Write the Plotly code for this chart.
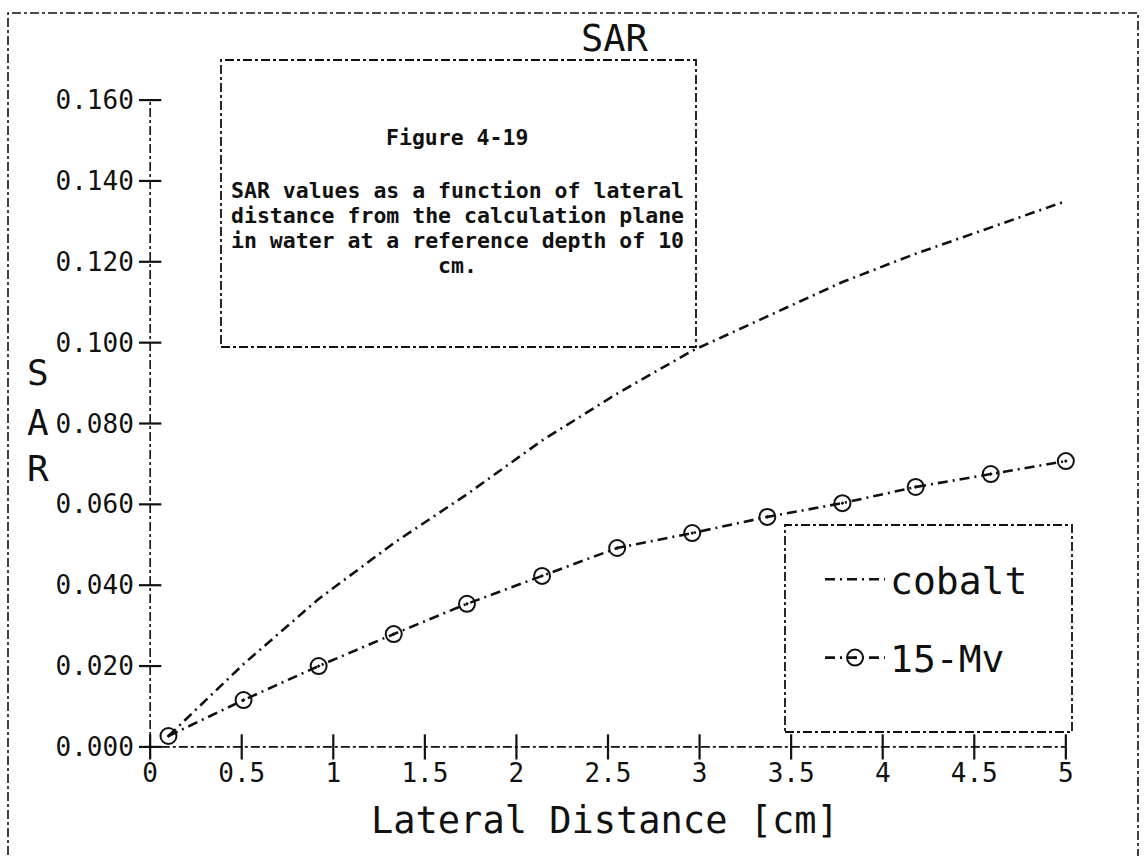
import plotly.graph_objects as go

# ---- data -------------------------------------------------------------
distance_cm = [0.1, 0.51, 0.92, 1.33, 1.73, 2.14, 2.55, 2.96, 3.37, 3.78, 4.18, 4.59, 5.0]
sar_cobalt = [0.0027, 0.0205, 0.0366, 0.0504, 0.0625, 0.0758, 0.0874, 0.0980,
              0.1065, 0.1150, 0.1220, 0.1285, 0.1350]
sar_15mv = [0.0027, 0.0116, 0.0200, 0.0279, 0.0354, 0.0423, 0.0492, 0.0529,
            0.0569, 0.0603, 0.0643, 0.0675, 0.0707]

x_ticks = [0, 0.5, 1, 1.5, 2, 2.5, 3, 3.5, 4, 4.5, 5]
x_tick_text = ["0", "0.5", "1", "1.5", "2", "2.5", "3", "3.5", "4", "4.5", "5"]
y_ticks = [0.0, 0.02, 0.04, 0.06, 0.08, 0.10, 0.12, 0.14, 0.16]
y_tick_text = ["0.000", "0.020", "0.040", "0.060", "0.080", "0.100", "0.120", "0.140", "0.160"]

caption_lines = [
    "SAR values as a function of lateral",
    "distance from the calculation plane",
    "in water at a reference depth of 10",
    "cm.",
]

# ---- layout geometry --------------------------------------------------
W, H = 1144, 856
ML, MR, MT, MB = 141, 69, 92, 101
PW, PH = W - ML - MR, H - MT - MB


def px(x):
    return (x - ML) / PW


def py(y):
    return (H - MB - y) / PH


MONO = "DejaVu Sans Mono"
INK = "#111111"
DASH = "10px,5px,2px,5px"

fig = go.Figure()

fig.add_trace(go.Scatter(
    x=distance_cm, y=sar_cobalt, mode="lines", name="cobalt",
    legendgroup="a",
    line=dict(color=INK, width=2.6, dash=DASH),
))
fig.add_trace(go.Scatter(
    x=distance_cm, y=sar_15mv, mode="lines+markers", name="15-Mv",
    legendgroup="b",
    line=dict(color=INK, width=2.6, dash=DASH),
    marker=dict(symbol="circle-open-dot", size=16, color=INK, line=dict(width=2)),
    cliponaxis=False,
))

# cross-shaped tick marks on both axes
fig.add_trace(go.Scatter(
    x=x_ticks, y=[0] * len(x_ticks), mode="markers", showlegend=False,
    marker=dict(symbol="line-ns", size=18, line=dict(width=2.2, color=INK)),
    cliponaxis=False, hoverinfo="skip",
))
fig.add_trace(go.Scatter(
    x=[0] * len(y_ticks), y=y_ticks, mode="markers", showlegend=False,
    marker=dict(symbol="line-ew", size=16, line=dict(width=2.2, color=INK)),
    cliponaxis=False, hoverinfo="skip",
))

shapes = []
# dashed axis lines
shapes.append(dict(type="line", xref="x", yref="y", x0=-0.04, x1=5.0, y0=0, y1=0,
                   line=dict(color=INK, width=1.6, dash="dashdot")))
shapes.append(dict(type="line", xref="x", yref="y", x0=0, x1=0, y0=0, y1=0.16,
                   line=dict(color=INK, width=1.6, dash="dashdot")))
# outer frame
shapes.append(dict(type="rect", xref="paper", yref="paper",
                   x0=px(8), x1=px(1138), y0=py(880), y1=py(13),
                   line=dict(color=INK, width=1.6, dash="dashdot")))
# caption box
shapes.append(dict(type="rect", xref="paper", yref="paper",
                   x0=px(221), x1=px(696), y0=py(347), y1=py(60),
                   line=dict(color=INK, width=1.8, dash="dashdot")))
# legend box
shapes.append(dict(type="rect", xref="paper", yref="paper",
                   x0=px(785), x1=px(1072), y0=py(732), y1=py(525),
                   line=dict(color=INK, width=1.8, dash="dashdot")))


def label(text, x, y, size, bold=False):
    if bold:
        text = "<b>" + text + "</b>"
    return dict(text=text, x=px(x), y=py(y), xref="paper", yref="paper",
                xanchor="center", yanchor="middle", showarrow=False,
                font=dict(family=MONO, size=size, color=INK))


annotations = [
    label("SAR", 615, 38, 37),
    label("Lateral Distance [cm]", 605, 820, 37),
    label("Figure 4-19", 457, 137, 21.5, bold=True),
]
for letter, yy in zip("SAR", [372, 422, 468]):
    annotations.append(label(letter, 38, yy, 36))
for line, yy in zip(caption_lines, [190, 215, 240, 265]):
    annotations.append(label(line, 457, yy, 21.5, bold=True))

fig.update_layout(
    width=W, height=H,
    margin=dict(l=ML, r=MR, t=MT, b=MB),
    paper_bgcolor="white", plot_bgcolor="white",
    shapes=shapes, annotations=annotations,
    showlegend=True,
    legend=dict(
        x=px(820), y=py(548), xanchor="left", yanchor="top",
        bgcolor="rgba(0,0,0,0)", borderwidth=0,
        font=dict(family=MONO, size=38, color=INK),
        tracegroupgap=26, traceorder="grouped", itemwidth=60,
    ),
    xaxis=dict(range=[-0.05, 5.05], showgrid=False, zeroline=False, showline=False,
               tickvals=x_ticks, ticktext=x_tick_text, ticks="",
               tickfont=dict(family=MONO, size=26, color=INK)),
    yaxis=dict(range=[-0.002, 0.162], showgrid=False, zeroline=False, showline=False,
               tickvals=y_ticks, ticktext=y_tick_text, ticks="outside", ticklen=1,
               tickcolor="rgba(0,0,0,0)",
               tickfont=dict(family=MONO, size=26, color=INK)),
)

fig.write_html("out.html")
